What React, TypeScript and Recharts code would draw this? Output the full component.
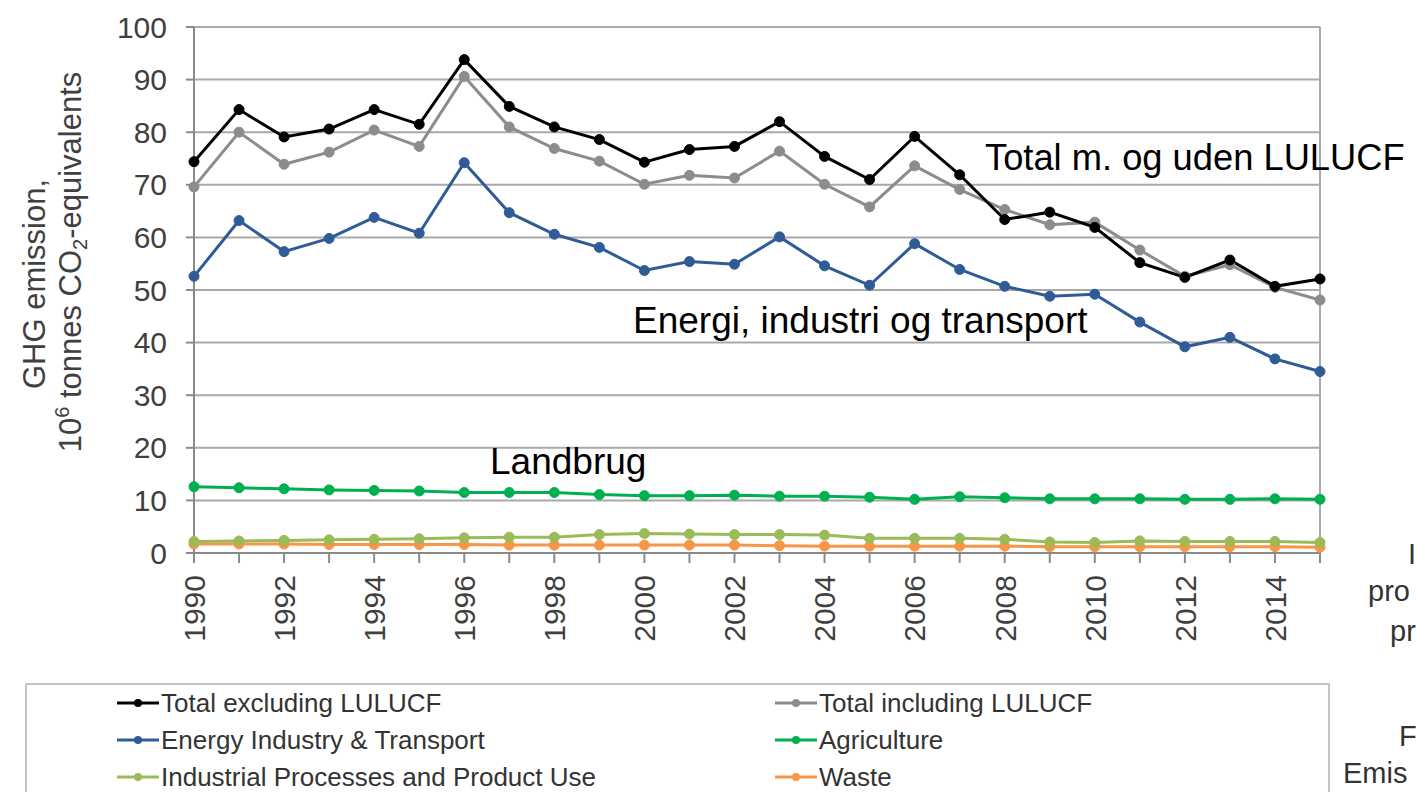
import { CartesianGrid, Legend, Line, LineChart, ReferenceLine, XAxis, YAxis } from "recharts";

const FONT = "'Liberation Sans', Arial, sans-serif";

const years = [
  1990, 1991, 1992, 1993, 1994, 1995, 1996, 1997, 1998, 1999, 2000, 2001, 2002,
  2003, 2004, 2005, 2006, 2007, 2008, 2009, 2010, 2011, 2012, 2013, 2014, 2015,
];
const totalExclLulucf = [
  74.4, 84.3, 79.1, 80.6, 84.3, 81.5, 93.8, 84.9, 81.0, 78.6, 74.3, 76.7, 77.3,
  82.0, 75.4, 71.0, 79.2, 71.9, 63.4, 64.8, 61.9, 55.2, 52.4, 55.7, 50.7, 52.1,
];
const totalInclLulucf = [
  69.6, 80.0, 73.9, 76.2, 80.4, 77.3, 90.6, 81.0, 76.9, 74.5, 70.1, 71.8, 71.3,
  76.4, 70.1, 65.8, 73.6, 69.1, 65.3, 62.4, 62.9, 57.6, 52.6, 54.8, 50.5, 48.1,
];
const energyIndustryTransport = [
  52.6, 63.2, 57.3, 59.8, 63.8, 60.8, 74.2, 64.7, 60.6, 58.1, 53.7, 55.4, 54.9,
  60.1, 54.6, 50.9, 58.8, 53.9, 50.7, 48.8, 49.2, 43.9, 39.2, 41.0, 36.9, 34.5,
];
const agriculture = [
  12.6, 12.4, 12.2, 12.0, 11.9, 11.8, 11.5, 11.5, 11.5, 11.1, 10.9, 10.9, 11.0,
  10.8, 10.8, 10.6, 10.2, 10.7, 10.5, 10.3, 10.3, 10.3, 10.2, 10.2, 10.3, 10.2,
];
const industrialProcesses = [
  2.2, 2.3, 2.4, 2.5, 2.6, 2.7, 2.9, 3.0, 3.0, 3.5, 3.7, 3.6, 3.5,
  3.5, 3.4, 2.8, 2.8, 2.8, 2.6, 2.1, 2.0, 2.3, 2.2, 2.2, 2.2, 2.0,
];
const waste = [
  1.7, 1.7, 1.7, 1.6, 1.6, 1.6, 1.6, 1.5, 1.5, 1.5, 1.5, 1.5, 1.5,
  1.4, 1.3, 1.3, 1.3, 1.3, 1.3, 1.2, 1.2, 1.2, 1.2, 1.2, 1.2, 1.1,
];
const yTicks = [0, 10, 20, 30, 40, 50, 60, 70, 80, 90, 100];

const data = years.map((year, i) => ({
  year,
  totalExcl: totalExclLulucf[i],
  totalIncl: totalInclLulucf[i],
  energy: energyIndustryTransport[i],
  agriculture: agriculture[i],
  industrial: industrialProcesses[i],
  waste: waste[i],
}));

// legend order: two columns, read row by row
const series = [
  { key: "totalExcl", name: "Total excluding LULUCF", color: "#000000" },
  { key: "totalIncl", name: "Total including LULUCF", color: "#8c8c8c" },
  { key: "energy", name: "Energy Industry & Transport", color: "#2f5b97" },
  { key: "agriculture", name: "Agriculture", color: "#00b050" },
  { key: "industrial", name: "Industrial Processes and Product Use", color: "#9bbb59" },
  { key: "waste", name: "Waste", color: "#f79646" },
];

const GRID = "#a9a9a9";

function YearTick(props: any) {
  const { x, y, payload } = props;
  const year = payload.value as number;
  if (year % 2 !== 0) return null;
  return (
    <g transform={`translate(${x},${y})`}>
      <text transform="rotate(-90)" textAnchor="end" dy="0.36em" fontSize={30} fill="#404040" fontFamily={FONT}>
        {year}
      </text>
    </g>
  );
}

function LegendBox() {
  return (
    <div
      style={{
        position: "relative",
        width: 1305,
        height: 130,
        boxSizing: "border-box",
        borderTop: "2px solid #c4c4c4",
        borderLeft: "2px solid #c4c4c4",
        borderRight: "2px solid #c4c4c4",
        fontFamily: FONT,
        fontSize: 26,
        color: "#333",
      }}
    >
      {series.map((s, i) => {
        const col = i % 2;
        const row = Math.floor(i / 2);
        return (
          <div
            key={s.key}
            style={{
              position: "absolute",
              left: col === 0 ? 90 : 748,
              top: 2 + row * 37,
              height: 32,
              display: "flex",
              alignItems: "center",
              whiteSpace: "nowrap",
            }}
          >
            <svg width={42} height={12} style={{ marginRight: 2 }}>
              <line x1={0} y1={6} x2={42} y2={6} stroke={s.color} strokeWidth={3} />
              <circle cx={21} cy={6} r={4} fill={s.color} />
            </svg>
            <span>{s.name}</span>
          </div>
        );
      })}
    </div>
  );
}

function Annotations() {
  const t = { fontFamily: FONT, fontSize: 37, fill: "#000" };
  const side = { fontFamily: FONT, fontSize: 29, fill: "#333" };
  return (
    <svg width={1417} height={792} style={{ position: "absolute", left: 0, top: 0, pointerEvents: "none" }}>
      <text x={985} y={170} {...t} fontSize={36.3}>Total m. og uden LULUCF</text>
      <text x={633} y={333} {...t}>Energi, industri og transport</text>
      <text x={490} y={474} {...t}>Landbrug</text>
      {/* fragments of the surrounding page text, as far as it is visible */}
      <text x={1408} y={564} {...side}>I</text>
      <text x={1368} y={601} {...side}>pro</text>
      <text x={1390} y={641} {...side}>pr</text>
      <text x={1399} y={746} {...side}>F</text>
      <text x={1343} y={783} {...side}>Emis</text>
    </svg>
  );
}

function YLabel() {
  return (
    <g fontFamily={FONT} fontSize={31} fill="#404040">
      <text transform="translate(45,284) rotate(-90)" textAnchor="middle">
        GHG emission,
      </text>
      <text transform="translate(81,262) rotate(-90)" textAnchor="middle">
        10<tspan fontSize={20} dy={-12}>6</tspan>
        <tspan dy={12}> tonnes CO</tspan>
        <tspan fontSize={20} dy={6}>2</tspan>
        <tspan dy={-6}>-equivalents</tspan>
      </text>
    </g>
  );
}

export default function App() {
  return (
    <div style={{ position: "absolute", left: 0, top: 0, width: 1417, height: 792, overflow: "hidden", background: "#fff" }}>
      <LineChart width={1417} height={792} data={data} margin={{ top: 27, right: 97, left: 0, bottom: 29 }}>
        <CartesianGrid vertical={false} stroke={GRID} strokeWidth={2} />
        <XAxis
          dataKey="year"
          interval={0}
          height={80}
          tickSize={10}
          tickMargin={12}
          tick={<YearTick />}
          axisLine={{ stroke: "#8a8a8a", strokeWidth: 2 }}
          tickLine={{ stroke: "#8a8a8a", strokeWidth: 2 }}
        />
        <YAxis
          domain={[0, 100]}
          ticks={yTicks}
          interval={0}
          width={194}
          tickSize={8}
          tickMargin={19}
          tick={{ fontSize: 30, fill: "#404040", fontFamily: FONT }}
          axisLine={{ stroke: "#8a8a8a", strokeWidth: 2 }}
          tickLine={{ stroke: "#8a8a8a", strokeWidth: 2 }}
          label={{ content: () => <YLabel /> }}
        />
        <ReferenceLine x={2015} stroke={GRID} strokeWidth={2} />
        {series
          .slice()
          .reverse()
          .map((s) => (
            <Line
              key={s.key}
              dataKey={s.key}
              name={s.name}
              type="linear"
              stroke={s.color}
              strokeWidth={3}
              dot={{ r: 5, fill: s.color, stroke: s.color, strokeWidth: 1 }}
              activeDot={false}
              isAnimationActive={false}
            />
          ))}
        <Legend
          verticalAlign="bottom"
          content={() => <LegendBox />}
          wrapperStyle={{ left: 25, top: 683, bottom: "auto", width: 1305, height: 130 }}
        />
      </LineChart>
      <Annotations />
    </div>
  );
}
